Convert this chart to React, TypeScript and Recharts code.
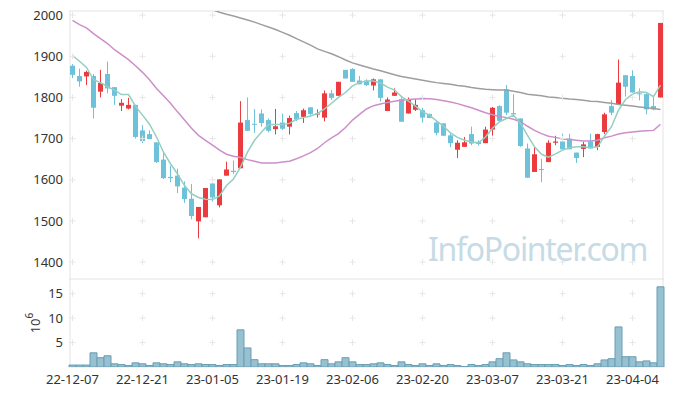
import { ComposedChart, Bar, Line, XAxis, YAxis, CartesianGrid, ReferenceDot } from 'recharts';

const dates = [
  '22-12-07', '22-12-08', '22-12-09', '22-12-12', '22-12-13', '22-12-14', '22-12-15', '22-12-16', '22-12-19', '22-12-20',
  '22-12-21', '22-12-22', '22-12-23', '22-12-26', '22-12-27', '22-12-28', '22-12-29', '23-01-02', '23-01-03', '23-01-04',
  '23-01-05', '23-01-06', '23-01-09', '23-01-10', '23-01-11', '23-01-12', '23-01-13', '23-01-16', '23-01-17', '23-01-18',
  '23-01-19', '23-01-20', '23-01-25', '23-01-26', '23-01-27', '23-01-30', '23-01-31', '23-02-01', '23-02-02', '23-02-03',
  '23-02-06', '23-02-07', '23-02-08', '23-02-09', '23-02-10', '23-02-13', '23-02-14', '23-02-15', '23-02-16', '23-02-17',
  '23-02-20', '23-02-21', '23-02-22', '23-02-23', '23-02-24', '23-02-27', '23-02-28', '23-03-02', '23-03-03', '23-03-06',
  '23-03-07', '23-03-08', '23-03-09', '23-03-10', '23-03-13', '23-03-14', '23-03-15', '23-03-16', '23-03-17', '23-03-20',
  '23-03-21', '23-03-22', '23-03-23', '23-03-24', '23-03-27', '23-03-28', '23-03-29', '23-03-30', '23-03-31', '23-04-03',
  '23-04-04', '23-04-05', '23-04-06', '23-04-07', '23-04-10',
];

const open = [
  1877, 1852, 1851, 1852, 1814, 1857, 1825, 1780, 1773, 1782,
  1720, 1711, 1691, 1649, 1607, 1610, 1581, 1554, 1499, 1509,
  1591, 1538, 1610, 1622, 1628, 1745, 1736, 1761, 1745, 1723,
  1739, 1729, 1762, 1753, 1776, 1759, 1751, 1810, 1804, 1867,
  1869, 1841, 1841, 1829, 1844, 1767, 1804, 1796, 1761, 1770,
  1769, 1760, 1739, 1737, 1708, 1673, 1680, 1711, 1692, 1689,
  1722, 1779, 1820, 1762, 1749, 1676, 1619, 1626, 1643, 1690,
  1693, 1700, 1666, 1675, 1693, 1680, 1716, 1779, 1783, 1854,
  1852, 1810, 1808, 1779, 1800,
];

const high = [
  1881, 1870, 1865, 1857, 1867, 1887, 1825, 1796, 1799, 1782,
  1733, 1720, 1691, 1667, 1634, 1627, 1596, 1590, 1534, 1580,
  1591, 1601, 1644, 1647, 1791, 1800, 1772, 1771, 1749, 1772,
  1761, 1756, 1767, 1773, 1776, 1771, 1817, 1818, 1838, 1867,
  1871, 1852, 1844, 1846, 1844, 1800, 1822, 1800, 1800, 1796,
  1775, 1761, 1743, 1737, 1714, 1696, 1704, 1729, 1696, 1729,
  1777, 1781, 1830, 1808, 1749, 1688, 1680, 1651, 1696, 1707,
  1712, 1711, 1666, 1692, 1712, 1712, 1763, 1794, 1892, 1854,
  1866, 1822, 1810, 1802, 1981,
];

const low = [
  1847, 1826, 1830, 1749, 1800, 1810, 1782, 1767, 1771, 1700,
  1689, 1699, 1641, 1602, 1594, 1568, 1544, 1504, 1458, 1509,
  1547, 1533, 1610, 1614, 1628, 1719, 1714, 1729, 1715, 1710,
  1721, 1710, 1743, 1738, 1757, 1751, 1742, 1794, 1804, 1846,
  1838, 1832, 1828, 1817, 1790, 1767, 1804, 1741, 1761, 1767,
  1739, 1750, 1708, 1707, 1679, 1653, 1680, 1684, 1683, 1689,
  1704, 1743, 1757, 1753, 1680, 1605, 1619, 1594, 1643, 1684,
  1674, 1674, 1641, 1655, 1676, 1672, 1711, 1757, 1783, 1802,
  1812, 1793, 1759, 1769, 1800,
];

const close = [
  1855, 1839, 1862, 1775, 1835, 1822, 1804, 1787, 1782, 1704,
  1694, 1699, 1643, 1604, 1604, 1584, 1553, 1512, 1534, 1580,
  1557, 1601, 1625, 1619, 1739, 1719, 1734, 1738, 1719, 1730,
  1724, 1750, 1747, 1769, 1760, 1761, 1810, 1799, 1838, 1846,
  1838, 1832, 1830, 1844, 1799, 1795, 1812, 1741, 1796, 1782,
  1751, 1750, 1714, 1707, 1689, 1690, 1691, 1688, 1687, 1722,
  1775, 1743, 1763, 1759, 1682, 1605, 1662, 1624, 1690, 1693,
  1674, 1674, 1653, 1686, 1676, 1711, 1759, 1763, 1836, 1826,
  1812, 1808, 1771, 1771, 1981,
];

// volume in millions
const volume = [
  0.4, 0.4, 0.4, 2.9, 1.9, 2.3, 0.65, 0.5, 0.3, 0.85,
  0.65, 0.3, 0.85, 0.65, 0.5, 1.05, 0.65, 0.5, 0.65, 0.5,
  0.5, 0.3, 0.5, 0.5, 7.6, 3.9, 1.5, 0.65, 0.65, 0.65,
  0.3, 0.3, 0.5, 0.85, 0.65, 0.3, 1.5, 0.65, 1.05, 1.9,
  1.05, 0.5, 0.5, 0.65, 0.85, 0.5, 0.3, 1.05, 0.5, 0.3,
  0.65, 0.3, 0.65, 0.3, 0.5, 0.3, 0.1, 0.5, 0.3, 0.5,
  1.05, 1.7, 2.9, 1.45, 1.05, 0.65, 0.5, 0.5, 0.5, 0.5,
  0.3, 0.5, 0.3, 0.5, 0.3, 0.65, 1.45, 1.7, 8.2, 2.1,
  2.1, 1.05, 1.25, 0.85, 16.4,
];

const ma5 = [
  1902, 1888, 1873, 1843, 1836, 1826, 1818, 1807, 1807, 1779,
  1757, 1735, 1704, 1667, 1639, 1614, 1586, 1566, 1557, 1553,
  1552, 1561, 1586, 1602, 1631, 1667, 1696, 1716, 1734, 1734,
  1734, 1737, 1747, 1751, 1755, 1761, 1772, 1786, 1800, 1812,
  1828, 1836, 1840, 1840, 1835, 1825, 1818, 1802, 1791, 1779,
  1765, 1757, 1743, 1730, 1714, 1703, 1696, 1692, 1690, 1704,
  1725, 1741, 1749, 1757, 1737, 1708, 1680, 1662, 1655, 1663,
  1672, 1678, 1680, 1680, 1678, 1680, 1706, 1729, 1769, 1795,
  1808, 1814, 1812, 1802, 1830,
];

const ma20 = [
  1987, 1977, 1969, 1955, 1943, 1931, 1916, 1904, 1892, 1877,
  1861, 1843, 1822, 1804, 1786, 1765, 1745, 1725, 1708, 1696,
  1684, 1672, 1662, 1657, 1654, 1649, 1645, 1641, 1641, 1641,
  1643, 1645, 1651, 1658, 1666, 1676, 1690, 1702, 1712, 1727,
  1745, 1759, 1772, 1780, 1784, 1788, 1791, 1793, 1795, 1796,
  1797, 1797, 1795, 1792, 1789, 1785, 1780, 1775, 1769, 1763,
  1758, 1754, 1751, 1747, 1741, 1730, 1720, 1712, 1706, 1703,
  1699, 1698, 1696, 1694, 1694, 1696, 1702, 1706, 1711, 1714,
  1716, 1718, 1719, 1720, 1735,
];

const ma60 = [
  null, null, null, null, null, null, null, null, null, null,
  null, null, null, null, null, null, null, null, null, null,
  2013, 2007, 2002, 1998, 1993, 1988, 1983, 1977, 1971, 1965,
  1958, 1951, 1943, 1935, 1927, 1918, 1912, 1906, 1899, 1891,
  1884, 1879, 1874, 1869, 1865, 1860, 1855, 1851, 1848, 1845,
  1842, 1839, 1836, 1834, 1832, 1829, 1827, 1824, 1822, 1820,
  1819, 1818, 1818, 1815, 1812, 1808, 1806, 1804, 1801, 1800,
  1798, 1796, 1795, 1793, 1791, 1790, 1788, 1786, 1783, 1781,
  1779, 1777, 1775, 1773, 1771,
];

const priceTicks = [1400, 1500, 1600, 1700, 1800, 1900, 2000];
const volTicks = [5, 10, 15];

const UP = '#ec3b3f';
const DOWN = '#6dc1d9';
const FRAME = '#e3e3e3';
const FONT = "'Noto Sans', sans-serif";

const rows = dates.map((date, i) => ({
  date,
  open: open[i],
  high: high[i],
  low: low[i],
  close: close[i],
  vol: volume[i],
  ma5: ma5[i],
  ma20: ma20[i],
  ma60: ma60[i],
}));

const gridDates = dates.filter((_, i) => i % 10 === 0);

function Candle(props: any) {
  const { x, y, width, height, payload } = props;
  const { open: o, close: c, high: h, low: l } = payload;
  const top = Math.min(y, y + height);
  const span = Math.abs(height);
  const k = h > l ? span / (h - l) : 0;
  const bodyTop = top + (h - Math.max(o, c)) * k;
  const bodyH = Math.max(1, Math.abs(o - c) * k);
  const color = c >= o ? UP : DOWN;
  const cx = x + width / 2;
  return (
    <g>
      <line x1={cx} x2={cx} y1={top} y2={top + span} stroke={color} strokeWidth={1} />
      <rect x={x} y={bodyTop} width={width} height={bodyH} fill={color} />
    </g>
  );
}

function Cross(props: any) {
  const { cx, cy } = props;
  if (cx == null || cy == null) return null;
  return <path d={`M${cx - 3},${cy}H${cx + 3}M${cx},${cy - 3}V${cy + 3}`} stroke="#e6e6e6" strokeWidth={1} />;
}

const frameH = ({ offset }: any) => [offset.top, offset.top + offset.height];
const frameV = ({ offset }: any) => [offset.left + 1, offset.left + offset.width - 1];

const tickStyle = { fontSize: 13, fill: '#333', fontFamily: FONT };

function VolUnit(p: any) {
  const vb = p.viewBox;
  const cx = vb.x + 35;
  const cy = vb.y + vb.height / 2;
  return (
    <text x={cx} y={cy} transform={`rotate(-90 ${cx} ${cy})`} textAnchor="middle" dominantBaseline="central" fontSize={13} fill="#333" fontFamily={FONT}>
      10<tspan dy={-6} fontSize={10}>6</tspan>
    </text>
  );
}

export default function App() {
  return (
    <div style={{ position: 'absolute', left: 0, top: 0, width: 673, height: 397, background: '#fff' }}>
      <div style={{ position: 'absolute', left: 0, top: 0 }}>
        <ComposedChart width={673} height={279} data={rows} margin={{ top: 11, right: 9, bottom: 0, left: 0 }}>
          <CartesianGrid stroke={FRAME} horizontalCoordinatesGenerator={frameH} verticalCoordinatesGenerator={frameV} />
          <XAxis dataKey="date" hide />
          <YAxis
            domain={[1359, 2010]}
            ticks={priceTicks}
            allowDataOverflow
            interval={0}
            width={69}
            axisLine={false}
            tickLine={false}
            tickSize={3}
            tickMargin={3}
            tick={tickStyle}
          />
          {gridDates.map((d) =>
            priceTicks.map((p) => <ReferenceDot key={d + p} x={d} y={p} r={0} shape={Cross} ifOverflow="visible" />)
          )}
          <Bar dataKey={(d: any) => [d.low, d.high]} barSize={5} shape={Candle} isAnimationActive={false} />
          <Line dataKey="ma60" stroke="#9e9e9e" strokeWidth={1.5} dot={false} isAnimationActive={false} />
          <Line dataKey="ma20" stroke="#cd8fca" strokeWidth={1.5} dot={false} isAnimationActive={false} />
          <Line dataKey="ma5" stroke="#93cfc2" strokeWidth={1.5} dot={false} isAnimationActive={false} />
        </ComposedChart>
      </div>
      <div
        style={{
          position: 'absolute',
          left: 428,
          top: 229,
          fontFamily: FONT,
          fontSize: 32,
          letterSpacing: -1.3,
          lineHeight: '40px',
          color: '#c6dbe5',
          whiteSpace: 'nowrap',
          pointerEvents: 'none',
        }}
      >
        InfoPointer.com
      </div>
      <div style={{ position: 'absolute', left: 0, top: 279 }}>
        <ComposedChart width={673} height={118} data={rows} barCategoryGap={0} margin={{ top: 0, right: 9, bottom: 0, left: 0 }}>
          <CartesianGrid stroke={FRAME} horizontalCoordinatesGenerator={frameH} verticalCoordinatesGenerator={frameV} />
          <XAxis dataKey="date" interval={9} height={30} axisLine={false} tickLine={false} tick={tickStyle} />
          <YAxis
            domain={[0, 18]}
            ticks={volTicks}
            allowDataOverflow
            interval={0}
            width={69}
            axisLine={false}
            tickLine={false}
            tickSize={3}
            tickMargin={3}
            tick={tickStyle}
            label={{ content: VolUnit }}
          />
          {gridDates.map((d) =>
            volTicks.map((v) => <ReferenceDot key={d + v} x={d} y={v} r={0} shape={Cross} ifOverflow="visible" />)
          )}
          <Bar dataKey="vol" fill="#97c0d1" stroke="#6a9eb4" strokeWidth={1} isAnimationActive={false} />
        </ComposedChart>
      </div>
    </div>
  );
}
